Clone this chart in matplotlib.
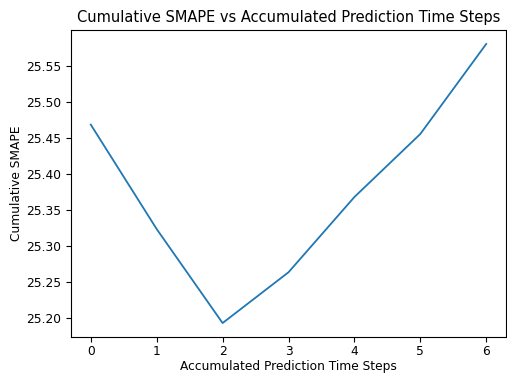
import matplotlib
matplotlib.use("Agg")
import matplotlib.pyplot as plt

steps = [0, 1, 2, 3, 4, 5, 6]
smape = [25.469, 25.324, 25.1935, 25.264, 25.3685, 25.456, 25.581]

plt.rcParams['font.size'] = 8.8
fig = plt.figure(figsize=(5.07, 3.74), dpi=100)
ax = fig.add_axes([71/507, 1 - 337/374, (506-71)/507, (337-30)/374])
ax.plot(steps, smape, color='#1f77b4', linewidth=1.3)
ax.set_title("Cumulative SMAPE vs Accumulated Prediction Time Steps", fontsize=10.5)
ax.set_xlabel("Accumulated Prediction Time Steps", labelpad=1)
ax.set_ylabel("Cumulative SMAPE", labelpad=2)
ax.set_yticks([25.20, 25.25, 25.30, 25.35, 25.40, 25.45, 25.50, 25.55])
ax.tick_params(axis='x', pad=2.5)
fig.savefig("out.png", dpi=100)
